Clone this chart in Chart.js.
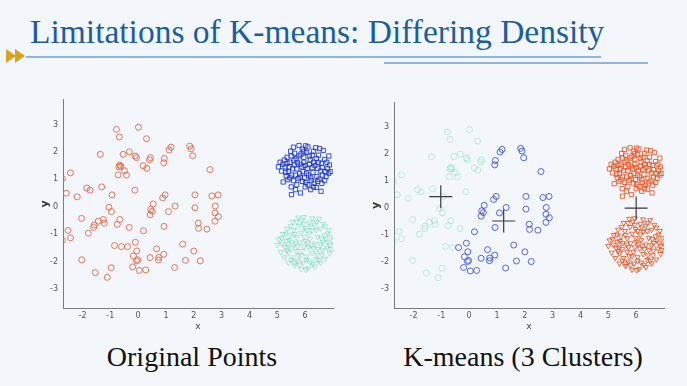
<!DOCTYPE html>
<html>
<head>
<meta charset="utf-8">
<script src="https://cdn.jsdelivr.net/npm/chart.js@4.4.1/dist/chart.umd.min.js"></script>
<style>
  html, body { margin: 0; padding: 0; }
  body { width: 687px; height: 386px; background: #f3f7fb; position: relative; overflow: hidden; font-family: "Liberation Serif", "Times New Roman", serif; }
  .title { position: absolute; left: 30px; top: 15px; font-size: 33.5px; line-height: 1; color: #1c5d9e; white-space: nowrap; }
  .rule1 { position: absolute; left: 26px; top: 56px; width: 575px; height: 2px; background: #8db7de; }
  .rule2 { position: absolute; left: 384px; top: 62px; width: 264px; height: 2px; background: #8db7de; }
  .arrow { position: absolute; left: 6px; top: 48px; }
  .caption { position: absolute; top: 343px; font-size: 28px; line-height: 1; color: #111; white-space: nowrap; transform: translateX(-50%); }
  .chart { position: absolute; top: 90px; width: 330px; height: 250px; }
</style>
</head>
<body>
<div class="title">Limitations of K-means: Differing Density</div>
<svg class="arrow" width="22" height="16" viewBox="0 0 22 16">
  <polygon points="0,1 10,8 0,15" fill="#d6a41e"/>
  <polygon points="9,1 19,8 9,15" fill="#d6a41e"/>
</svg>
<div class="rule1"></div>
<div class="rule2"></div>

<div class="chart" style="left:20px"><canvas id="left"></canvas></div>
<div class="chart" style="left:351px"><canvas id="right"></canvas></div>

<div class="caption" style="left:192px">Original Points</div>
<div class="caption" style="left:523px">K-means (3 Clusters)</div>

<script>
// sparse cloud, the part k-means puts in the left (green) cluster
const sparseGreen = [
  [-0.78, 2.82], [0.01, 2.90], [-0.68, 2.54], [0.30, 2.48], [-1.36, 1.91], [-0.54, 1.91],
  [-0.32, 2.00], [-0.11, 1.85], [-0.06, 1.79], [0.41, 1.71], [0.44, 1.79],
  [-0.66, 1.52], [-0.62, 1.47], [-0.69, 1.45], [-0.49, 1.31], [-0.72, 1.16], [-0.42, 1.15],
  [0.18, 1.49], [0.31, 1.40], [-2.43, 1.23], [-2.72, 1.02], [-2.58, 0.49], [-2.19, 0.36],
  [-1.85, 0.68], [-1.73, 0.60], [-1.31, 0.72], [-0.94, 0.43], [-0.12, 0.60],
  [-1.05, -0.02], [-0.96, -0.18], [-2.03, -0.43], [-1.43, -0.53], [-1.25, -0.47], [-1.22, -0.60],
  [-1.58, -0.67], [-1.60, -0.76], [-0.66, -0.47], [-0.75, -0.65], [-0.32, -0.76],
  [-2.52, -0.87], [-2.43, -1.14], [-2.72, -1.23], [-1.79, -0.97], [-0.85, -1.42], [-0.60, -1.46],
  [-2.03, -1.94], [-0.97, -2.23], [-1.54, -2.41], [-1.11, -2.58]
];

// sparse cloud, the part k-means puts in the middle (blue) cluster
const sparseBlue = [
  [0.94, 1.76], [0.92, 1.60], [1.11, 2.07], [1.18, 2.17], [1.85, 2.21], [1.90, 2.11], [1.96, 1.86],
  [2.58, 1.35], [0.97, 0.43], [0.88, 0.32], [0.54, 0.10], [0.45, -0.10], [0.51, -0.17], [0.43, -0.30],
  [1.09, -0.18], [1.33, 0.02], [2.04, 0.43], [2.04, -0.04], [2.65, 0.39], [2.87, 0.43], [2.77, 0.02],
  [2.76, -0.23], [2.88, -0.36], [2.76, -0.53], [2.16, -0.60], [2.17, -0.79], [2.47, -0.82],
  [0.19, -0.88], [0.93, -0.72], [-0.10, -1.30], [-0.38, -1.46], [-0.05, -1.62], [0.66, -1.54],
  [1.60, -1.37], [-0.17, -1.80], [-0.02, -1.94], [-0.06, -1.98], [0.43, -1.86], [0.74, -1.85],
  [0.92, -1.74], [0.73, -1.95], [2.00, -1.62], [1.70, -1.96], [2.23, -1.98], [-0.20, -2.20],
  [0.04, -2.33], [0.27, -2.31], [1.31, -2.22]
];

// dense upper blob (squares)
const denseTop = [
  [5.04, 1.45], [5.21, 0.90], [5.51, 0.44], [5.83, 0.50], [6.65, 2.05], [6.57, 0.56], [6.92, 1.28],
  [6.87, 1.52], [5.78, 2.23], [5.58, 2.17], [5.35, 1.80], [5.45, 1.62], [5.62, 1.95], [5.90, 2.10],
  [6.10, 2.18], [6.30, 2.02], [6.48, 1.88], [6.70, 1.72], [6.80, 1.40], [6.75, 1.10], [6.60, 0.85],
  [6.40, 0.70], [6.20, 0.62], [6.00, 0.72], [5.70, 0.80], [5.45, 1.05], [5.30, 1.25], [5.20, 1.55],
  [5.55, 1.38], [5.72, 1.60], [5.95, 1.80], [6.18, 1.70], [6.35, 1.50], [6.55, 1.30], [6.42, 1.10],
  [6.22, 0.95], [5.98, 1.05], [5.80, 1.20], [5.65, 1.15], [5.88, 1.45], [6.08, 1.40], [6.28, 1.25],
  [6.12, 1.15], [5.95, 1.62], [5.50, 1.85], [5.68, 1.75], [6.40, 1.75], [6.58, 1.58], [6.85, 1.22],
  [5.38, 0.98], [5.58, 0.95], [6.02, 0.88], [6.32, 0.85], [6.50, 1.00], [6.70, 0.95], [5.15, 1.30],
  [5.25, 1.70], [5.85, 1.92], [6.05, 1.98], [6.25, 1.88], [5.42, 1.45], [5.75, 1.02], [6.45, 1.40],
  [6.62, 1.15], [5.92, 1.28], [6.15, 1.55], [5.62, 1.52], [6.38, 2.15], [5.48, 2.02], [6.10, 0.80],
  [5.32, 1.12], [6.78, 1.62], [6.02, 2.22], [5.70, 1.38], [6.25, 1.42],
  [5.10, 1.62], [5.28, 1.45], [5.40, 1.28], [5.52, 1.15], [5.60, 1.70], [5.78, 1.85], [5.82, 1.55],
  [5.90, 0.92], [6.00, 1.50], [6.05, 1.22], [6.20, 1.05], [6.30, 1.62], [6.48, 1.62], [6.52, 2.12],
  [6.62, 1.42], [6.72, 1.28], [5.65, 0.62], [6.30, 0.72], [5.95, 2.02], [6.15, 1.85], [5.35, 1.58],
  [6.85, 1.85], [5.50, 0.72], [6.45, 0.92], [5.82, 1.08]
];

// dense lower blob (triangles)
const denseBottom = [
  [5.75, -0.40], [5.95, -0.38], [6.25, -0.42], [6.50, -0.45], [6.65, -0.62], [5.55, -0.55], [5.35, -0.80],
  [5.20, -1.00], [5.05, -1.20], [5.00, -1.40], [5.12, -1.65], [5.25, -1.85], [5.40, -2.05], [5.62, -2.15],
  [5.85, -2.28], [6.10, -2.25], [6.35, -2.18], [6.55, -2.05], [6.72, -1.90], [6.88, -1.70], [7.02, -1.35],
  [6.95, -1.10], [6.85, -0.85], [6.70, -1.05], [6.55, -0.80], [6.35, -0.65], [6.15, -0.58], [5.95, -0.62],
  [5.78, -0.70], [5.60, -0.85], [5.45, -1.05], [5.32, -1.25], [5.28, -1.48], [5.40, -1.68], [5.55, -1.85],
  [5.72, -1.98], [5.92, -2.05], [6.18, -2.02], [6.40, -1.92], [6.60, -1.75], [6.78, -1.50], [6.82, -1.28],
  [6.62, -1.30], [6.45, -1.10], [6.25, -0.88], [6.05, -0.85], [5.85, -0.95], [5.68, -1.12], [5.52, -1.30],
  [5.50, -1.52], [5.68, -1.62], [5.85, -1.78], [6.05, -1.82], [6.25, -1.70], [6.45, -1.55], [6.55, -1.38],
  [6.35, -1.35], [6.18, -1.18], [5.98, -1.10], [5.80, -1.30], [5.95, -1.45], [6.12, -1.50], [6.30, -1.52],
  [5.72, -1.45], [6.08, -1.32], [5.62, -2.05], [6.02, -2.30], [6.72, -0.72], [5.15, -1.15], [6.92, -1.55],
  [5.88, -0.50], [6.40, -0.55], [5.38, -1.45], [6.50, -1.95], [5.80, -2.12],
  [5.18, -1.35], [5.30, -0.98], [5.42, -1.22], [5.48, -0.70], [5.62, -1.00], [5.65, -1.35], [5.75, -1.78],
  [5.90, -1.62], [5.98, -0.78], [6.05, -1.95], [6.15, -0.98], [6.22, -1.42], [6.28, -2.10], [6.40, -0.85],
  [6.42, -1.75], [6.58, -1.15], [6.62, -1.58], [6.75, -1.20], [6.80, -0.98], [5.50, -1.95], [5.35, -1.60],
  [6.00, -1.25], [6.88, -1.40], [5.70, -0.55], [6.20, -0.72]
];

// k-means centres
const centroids = [[-1.02, 0.42], [1.24, -0.48], [6.00, 0.00]];

const xTicks = [-2, -1, 0, 1, 2, 3, 4, 5, 6];
const yTicks = [-3, -2, -1, 0, 1, 2, 3];

const toXY = arr => arr.map(p => ({ x: p[0], y: p[1] }));

function scatterOptions() {
  return {
    responsive: true,
    maintainAspectRatio: false,
    animation: false,
    layout: { padding: { top: 7, right: 17, left: 0, bottom: 0 } },
    plugins: { legend: { display: false }, tooltip: { enabled: false } },
    scales: {
      x: {
        type: 'linear', min: -2.7, max: 7,
        grid: { display: false, drawTicks: false },
        border: { display: true, color: '#7a7a7a', width: 1 },
        ticks: { color: '#555', font: { family: 'DejaVu Sans', size: 8 }, padding: 3 },
        title: { display: true, text: 'x', color: '#444', font: { family: 'DejaVu Sans', size: 9 }, padding: { top: 0, bottom: 8 } },
        afterBuildTicks: s => { s.ticks = xTicks.map(v => ({ value: v })); },
        afterFit: s => { s.height = 32; }
      },
      y: {
        type: 'linear', min: -3.7, max: 3.9,
        grid: { display: false, drawTicks: false },
        border: { display: true, color: '#7a7a7a', width: 1 },
        ticks: { color: '#555', font: { family: 'DejaVu Sans', size: 8 }, padding: 5 },
        title: { display: true, text: 'y', color: '#333', font: { family: 'DejaVu Sans', size: 11, weight: 'bold' }, padding: { top: 19, bottom: 0 } },
        afterBuildTicks: s => { s.ticks = yTicks.map(v => ({ value: v })); },
        afterFit: s => { s.width = 43; }
      }
    }
  };
}

new Chart(document.getElementById('left'), {
  type: 'scatter',
  data: {
    datasets: [
      { data: toXY(denseTop), pointStyle: 'rect', pointRadius: 3, borderWidth: 1,
        borderColor: 'rgba(25,50,205,0.85)', backgroundColor: 'rgba(0,0,0,0)' },
      { data: toXY(sparseGreen.concat(sparseBlue)), pointStyle: 'circle', pointRadius: 3, borderWidth: 1,
        borderColor: 'rgba(232,95,60,0.85)', backgroundColor: 'rgba(0,0,0,0)' },
      { data: toXY(denseBottom), pointStyle: 'triangle', rotation: 180, pointRadius: 3, borderWidth: 1,
        borderColor: 'rgba(50,205,150,0.38)', backgroundColor: 'rgba(0,0,0,0)' }
    ]
  },
  options: scatterOptions()
});

new Chart(document.getElementById('right'), {
  type: 'scatter',
  data: {
    datasets: [
      { data: toXY(centroids), pointStyle: 'cross', pointRadius: 11.5, borderWidth: 1.2,
        borderColor: '#3a3a3a', backgroundColor: '#3a3a3a' },
      { data: toXY(sparseBlue), pointStyle: 'circle', pointRadius: 3, borderWidth: 1,
        borderColor: 'rgba(55,75,220,0.85)', backgroundColor: 'rgba(0,0,0,0)' },
      { data: toXY(denseTop), pointStyle: 'rect', pointRadius: 3, borderWidth: 1,
        borderColor: 'rgba(240,80,30,0.85)', backgroundColor: 'rgba(0,0,0,0)' },
      { data: toXY(denseBottom), pointStyle: 'triangle', rotation: 180, pointRadius: 3, borderWidth: 1,
        borderColor: 'rgba(240,80,30,0.85)', backgroundColor: 'rgba(0,0,0,0)' },
      { data: toXY(sparseGreen), pointStyle: 'circle', pointRadius: 3, borderWidth: 1,
        borderColor: 'rgba(60,210,150,0.3)', backgroundColor: 'rgba(0,0,0,0)' }
    ]
  },
  options: scatterOptions()
});
</script>
</body>
</html>
